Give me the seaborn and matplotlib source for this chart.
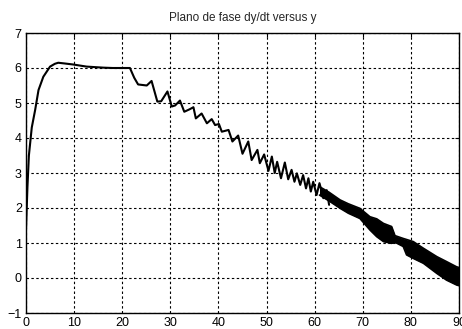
import matplotlib
matplotlib.use("Agg")
import matplotlib.pyplot as plt
import seaborn as sns
import pandas as pd

# Trajectory vertices
traj_x = [0, 0.3, 0.6, 1.2, 1.9, 2.6, 3.6, 5.0, 6.0, 6.7, 8.0, 9.8, 12.6, 16.1, 18.0, 21.6,
          22.5, 23.3, 25.1, 26.1, 27.3, 28.1, 29.4, 30.3, 31.0, 32.0, 32.9, 34.0, 34.8, 35.3,
          36.5, 37.6, 38.6, 39.3, 40.1, 40.7, 42.1, 42.9, 44.1, 45.0, 46.2, 46.9, 48.1, 48.6,
          49.5, 50.4, 51.1, 51.7, 52.2, 53.0, 53.8, 54.5, 55.2, 55.8, 56.3, 57.0, 57.6, 58.2,
          58.7, 59.2, 59.7, 60.4, 61.0, 61.8, 62.5, 63.0]
traj_y = [1.4, 2.6, 3.5, 4.3, 4.8, 5.37, 5.75, 6.04, 6.12, 6.15, 6.13, 6.10, 6.04, 6.01, 6.0, 6.0,
          5.72, 5.53, 5.50, 5.63, 5.04, 5.05, 5.33, 4.90, 4.93, 5.07, 4.75, 4.82, 4.88, 4.56,
          4.70, 4.42, 4.54, 4.37, 4.40, 4.18, 4.23, 3.90, 4.07, 3.55, 3.90, 3.37, 3.66, 3.28,
          3.53, 3.06, 3.47, 3.00, 3.32, 2.85, 3.30, 2.82, 3.09, 2.75, 2.99, 2.66, 2.94, 2.56,
          2.85, 2.47, 2.75, 2.37, 2.71, 2.28, 2.51, 2.09]

# Dense oscillation band (upper and lower envelope)
band_x = [61.0, 63.0, 65.3, 67.0, 69.4, 71.5, 72.9, 74.3, 76.0, 76.7, 78.4, 79.1, 80.5,
          82.6, 85.4, 87.4, 89.5, 90.0]
band_top = [2.61, 2.45, 2.23, 2.12, 1.99, 1.75, 1.69, 1.56, 1.47, 1.21, 1.13, 1.10, 1.04,
            0.85, 0.61, 0.47, 0.32, 0.30]
band_bot = [2.37, 2.20, 1.99, 1.85, 1.70, 1.37, 1.18, 1.04, 0.99, 1.02, 0.90, 0.66, 0.56,
            0.42, 0.13, -0.06, -0.20, -0.22]

x_ticks = [0, 10, 20, 30, 40, 50, 60, 70, 80, 90]
y_ticks = [-1, 0, 1, 2, 3, 4, 5, 6, 7]
title = "Plano de fase dy/dt versus y"

sns.set_style("white")
plt.rcParams['font.family'] = ['Liberation Sans', 'DejaVu Sans']

fig = plt.figure(figsize=(4.62, 3.29), dpi=100)
ax = fig.add_axes([26/462, 16/329, 433/462, 280/329])

df = pd.DataFrame({"x": traj_x, "y": traj_y})
sns.lineplot(data=df, x="x", y="y", ax=ax, color="black", linewidth=1.5, sort=False,
             estimator=None)
ax.fill_between(band_x, band_bot, band_top, color="black", linewidth=0)
bdf = pd.DataFrame({"x": band_x + band_x, "y": band_top + band_bot,
                    "edge": ["t"] * len(band_x) + ["b"] * len(band_x)})
sns.lineplot(data=bdf, x="x", y="y", units="edge", estimator=None, ax=ax,
             color="black", linewidth=1.2, sort=False)

ax.set_xlim(0, 90)
ax.set_ylim(-1, 7)
ax.set_xticks(x_ticks)
ax.set_yticks(y_ticks)
ax.set_xlabel("")
ax.set_ylabel("")
ax.grid(True, color="black", linestyle=(0, (2.2, 2.2)), linewidth=0.8)
for s in ax.spines.values():
    s.set_color("black")
    s.set_linewidth(1.0)
ax.tick_params(direction="in", length=3, width=0.8, top=True, right=True,
               labelsize=9, pad=3, colors="black")
ax.set_title(title, fontsize=8.5, pad=9)

fig.savefig("out.png", dpi=100)
